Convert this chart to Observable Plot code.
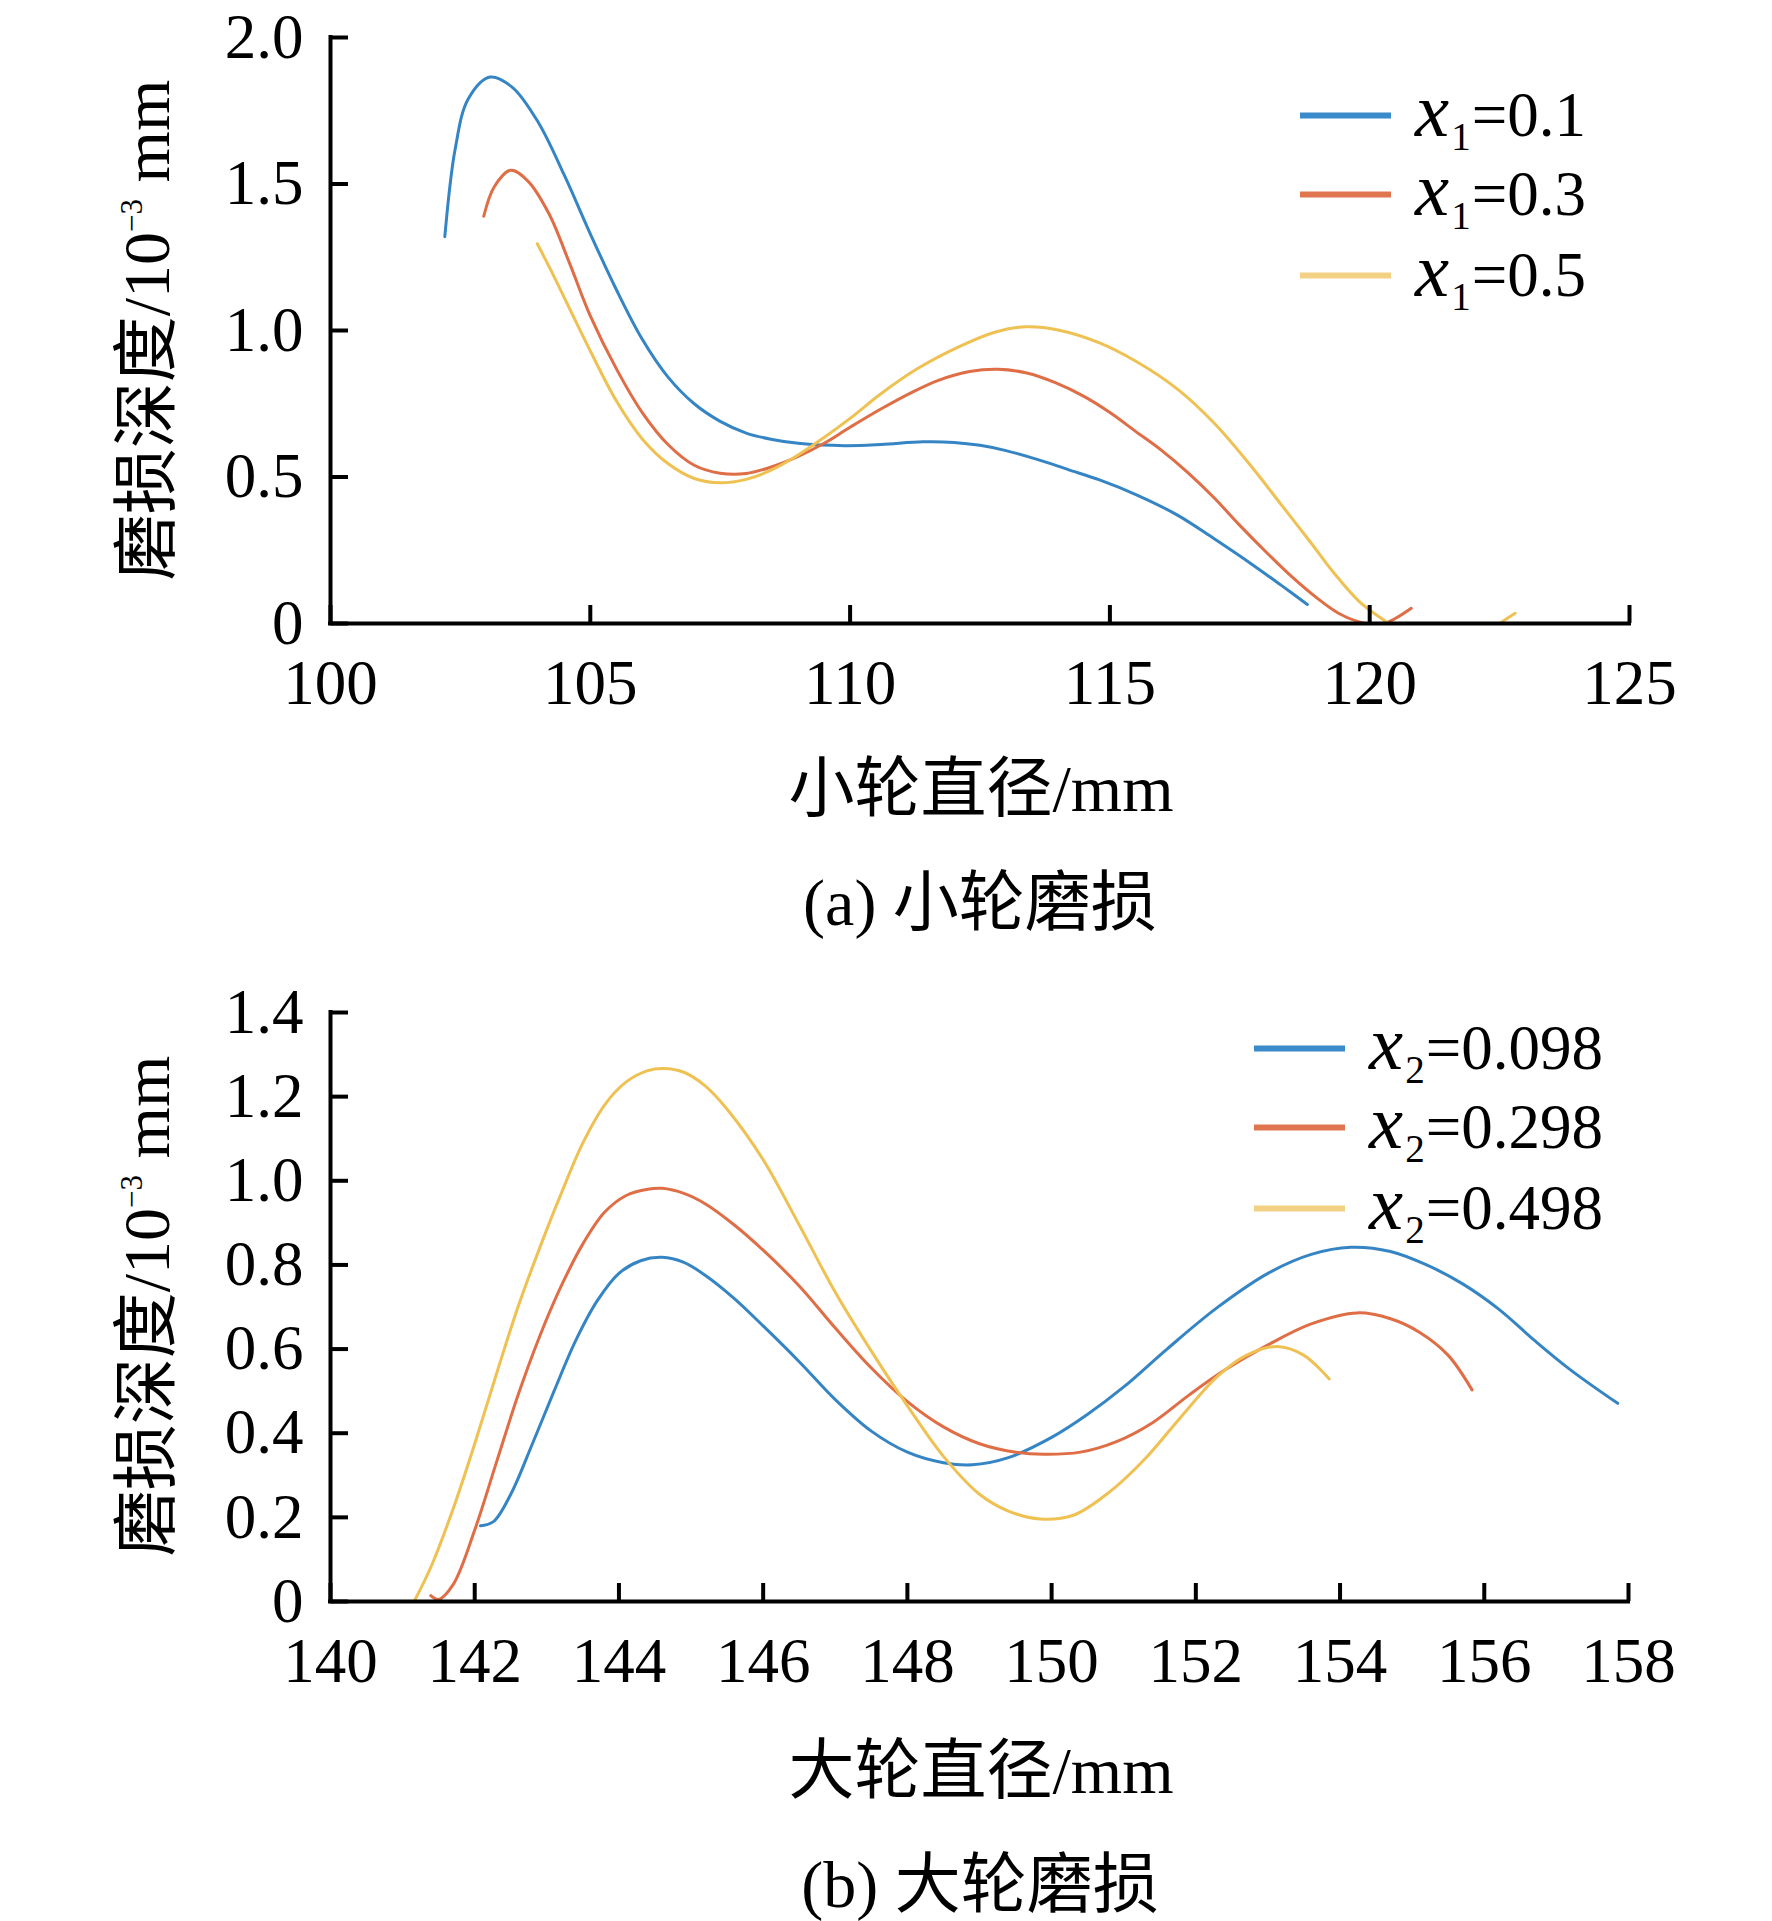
<!DOCTYPE html>
<html><head><meta charset="utf-8">
<script src="https://cdn.jsdelivr.net/npm/d3@7"></script>
<script src="https://cdn.jsdelivr.net/npm/@observablehq/plot@0.6"></script>
<style>
html,body{margin:0;padding:0;background:#fff;}
#page{position:relative;width:1772px;height:1921px;overflow:hidden;background:#fff;font-family:"Liberation Serif","Noto Sans CJK SC",serif;color:#000;}
.t{position:absolute;white-space:nowrap;line-height:1;font-size:66px;transform:translate(-50%,-50%);}
.yt{position:absolute;white-space:nowrap;line-height:1;font-size:66px;transform:translate(-50%,-50%) rotate(-90deg);}
.sup{font-size:31px;vertical-align:27px;line-height:0;}
.leg{position:absolute;display:flex;align-items:center;transform:translateY(-50%);line-height:63px;font-size:63px;white-space:nowrap;}
.bar{display:inline-block;width:91px;height:6px;}
.lt{margin-left:24px;}
.vx{font-style:italic;font-size:1.22em;line-height:0;margin-right:2px;}
.sb{font-size:0.62em;vertical-align:-14px;line-height:0;margin-right:1px;}
.chart{position:absolute;left:0;}
</style></head>
<body>
<div id="page">
  <div id="chartA" class="chart" style="top:0px"></div>
  <div id="chartB" class="chart" style="top:960px"></div>
</div>
<script>
// ---------- data: (a) small wheel ----------
const xTicksA = [100, 105, 110, 115, 120, 125];
const xTickLabelsA = ["100", "105", "110", "115", "120", "125"];
const yTicksA = [0, 0.5, 1.0, 1.5, 2.0];
const yTickLabelsA = ["0", "0.5", "1.0", "1.5", "2.0"];
const seriesNamesA = ["0.1", "0.3", "0.5"];

const wearA_01 = [[102.2,1.32],[102.4,1.62],[102.65,1.79],[103.07,1.865],[103.5,1.83],[104.0,1.71],[104.5,1.53],[105.0,1.33],[105.5,1.14],[106.0,0.97],[106.5,0.84],[107.0,0.75],[107.5,0.69],[108.0,0.65],[108.5,0.628],[109.0,0.615],[109.9,0.607],[110.6,0.611],[111.4,0.62],[112.0,0.618],[112.5,0.608],[113.0,0.59],[113.6,0.56],[114.2,0.525],[114.8,0.49],[115.5,0.44],[116.3,0.37],[117.0,0.29],[117.75,0.2],[118.3,0.13],[118.8,0.065]];
const wearA_03 = [[102.95,1.39],[103.15,1.49],[103.47,1.547],[103.8,1.51],[104.2,1.40],[104.6,1.23],[105.0,1.05],[105.5,0.87],[106.0,0.72],[106.5,0.61],[107.0,0.54],[107.5,0.513],[108.0,0.512],[108.5,0.535],[109.0,0.57],[109.5,0.615],[110.0,0.67],[110.6,0.733],[111.2,0.79],[111.7,0.83],[112.3,0.86],[112.85,0.868],[113.4,0.855],[113.95,0.822],[114.5,0.775],[115.0,0.72],[115.5,0.655],[116.0,0.59],[116.5,0.515],[117.0,0.43],[117.5,0.335],[118.0,0.245],[118.5,0.16],[119.0,0.085],[119.4,0.035],[119.8,0.005],[120.2,-0.005],[120.5,0.018],[120.8,0.052]];
const wearA_05 = [[103.98,1.296],[104.3,1.185],[104.6,1.075],[105.0,0.93],[105.5,0.76],[106.0,0.63],[106.5,0.545],[107.0,0.495],[107.5,0.48],[108.0,0.492],[108.5,0.525],[109.0,0.575],[109.5,0.635],[110.0,0.70],[110.6,0.785],[111.3,0.87],[112.1,0.945],[112.8,0.995],[113.4,1.013],[114.0,1.002],[114.8,0.958],[115.5,0.895],[116.3,0.80],[117.0,0.685],[117.75,0.53],[118.3,0.405],[118.85,0.28],[119.3,0.175],[119.8,0.075],[120.3,0.008],[120.7,-0.04],[121.2,-0.08],[121.7,-0.08],[122.2,-0.04],[122.5,0.0],[122.8,0.035]];

// ---------- data: (b) large wheel ----------
const xTicksB = [140, 142, 144, 146, 148, 150, 152, 154, 156, 158];
const xTickLabelsB = ["140", "142", "144", "146", "148", "150", "152", "154", "156", "158"];
const yTicksB = [0, 0.2, 0.4, 0.6, 0.8, 1.0, 1.2, 1.4];
const yTickLabelsB = ["0", "0.2", "0.4", "0.6", "0.8", "1.0", "1.2", "1.4"];
const seriesNamesB = ["0.098", "0.298", "0.498"];

const wearB_098 = [[142.08,0.18],[142.26,0.19],[142.5,0.255],[142.8,0.375],[143.1,0.5],[143.4,0.62],[143.7,0.715],[144.0,0.78],[144.3,0.81],[144.6,0.818],[144.9,0.806],[145.2,0.775],[145.6,0.72],[146.0,0.655],[146.5,0.57],[147.0,0.48],[147.5,0.405],[148.0,0.355],[148.5,0.33],[148.9,0.325],[149.4,0.342],[150.0,0.39],[150.5,0.445],[151.0,0.51],[151.6,0.6],[152.3,0.699],[153.0,0.78],[153.6,0.825],[154.15,0.842],[154.7,0.832],[155.2,0.8],[155.7,0.755],[156.2,0.695],[156.7,0.62],[157.2,0.55],[157.85,0.471]];
const wearB_298 = [[141.39,0.014],[141.5,0.005],[141.7,0.04],[142.0,0.17],[142.3,0.33],[142.6,0.49],[142.9,0.63],[143.2,0.75],[143.5,0.85],[143.8,0.925],[144.1,0.965],[144.4,0.98],[144.6,0.982],[144.9,0.97],[145.2,0.945],[145.6,0.895],[146.0,0.835],[146.5,0.75],[147.0,0.65],[147.5,0.555],[148.0,0.475],[148.5,0.415],[149.0,0.375],[149.5,0.355],[149.9,0.35],[150.4,0.355],[150.9,0.38],[151.4,0.425],[151.9,0.49],[152.4,0.55],[153.0,0.61],[153.6,0.66],[154.24,0.686],[154.7,0.672],[155.1,0.64],[155.5,0.585],[155.83,0.503]];
const wearB_498 = [[141.16,0.0],[141.4,0.085],[141.7,0.22],[142.0,0.375],[142.3,0.54],[142.6,0.70],[142.9,0.84],[143.2,0.97],[143.5,1.09],[143.8,1.18],[144.1,1.235],[144.4,1.262],[144.62,1.267],[144.9,1.258],[145.2,1.225],[145.5,1.17],[146.0,1.05],[146.5,0.895],[147.0,0.735],[147.5,0.595],[148.0,0.465],[148.5,0.345],[149.0,0.255],[149.4,0.215],[149.84,0.196],[150.3,0.205],[150.8,0.26],[151.3,0.34],[151.8,0.44],[152.3,0.535],[152.7,0.585],[153.13,0.606],[153.5,0.585],[153.85,0.529]];

const colors = ["#3585c5", "#df6d45", "#efc152"];
const legendColors = ["#3a8bcb", "#e07650", "#f3d184"];

function toRows(pts) { return pts.map(([x, y]) => ({x, y})); }

function makeChart(cfg) {
  const frameW = cfg.width - cfg.marginLeft - cfg.marginRight;
  const frameH = cfg.height - cfg.marginTop - cfg.marginBottom;
  const fmt = (ticks, labels) => d => labels[ticks.findIndex(t => Math.abs(t - d) < 1e-9)];
  return Plot.plot({
    width: cfg.width,
    height: cfg.height,
    marginLeft: cfg.marginLeft,
    marginRight: cfg.marginRight,
    marginTop: cfg.marginTop,
    marginBottom: cfg.marginBottom,
    x: {domain: [cfg.xTicks[0], cfg.xTicks[cfg.xTicks.length - 1]], label: null},
    y: {domain: [cfg.yTicks[0], cfg.yTicks[cfg.yTicks.length - 1]], label: null},
    style: {fontFamily: "'Liberation Serif', 'Times New Roman', serif", background: "transparent", overflow: "visible", color: "#000"},
    marks: [
      ...cfg.series.map((s, i) => Plot.line(toRows(s), {x: "x", y: "y", stroke: colors[i], strokeWidth: 3, curve: "catmull-rom", clip: true})),
      Plot.ruleY([cfg.yTicks[0]], {stroke: "#000", strokeWidth: 4, strokeLinecap: "square"}),
      Plot.ruleX([cfg.xTicks[0]], {stroke: "#000", strokeWidth: 4, strokeLinecap: "square"}),
      Plot.tickX(cfg.xTicks, {x: d => d, stroke: "#000", strokeWidth: 4, insetTop: frameH - 18}),
      Plot.tickY(cfg.yTicks, {y: d => d, stroke: "#000", strokeWidth: 4, insetRight: frameW - 18}),
      Plot.axisX(cfg.xTicks, {tickSize: 0, tickPadding: 36, fontSize: 63, label: null, tickFormat: fmt(cfg.xTicks, cfg.xLabels)}),
      Plot.axisY(cfg.yTicks, {tickSize: 0, tickPadding: 27, fontSize: 63, label: null, tickFormat: fmt(cfg.yTicks, cfg.yLabels)})
    ]
  });
}

document.getElementById("chartA").append(makeChart({
  width: 1772, height: 720, marginLeft: 330, marginRight: 143, marginTop: 37, marginBottom: 97,
  xTicks: xTicksA, xLabels: xTickLabelsA, yTicks: yTicksA, yLabels: yTickLabelsA,
  series: [wearA_01, wearA_03, wearA_05]
}));
document.getElementById("chartB").append(makeChart({
  width: 1772, height: 740, marginLeft: 330, marginRight: 144, marginTop: 52, marginBottom: 99,
  xTicks: xTicksB, xLabels: xTickLabelsB, yTicks: yTicksB, yLabels: yTickLabelsB,
  series: [wearB_098, wearB_298, wearB_498]
}));

// ---------- titles, captions, legends ----------
const page = document.getElementById("page");
function addText(cls, html, left, top) {
  const d = document.createElement("div");
  d.className = cls;
  d.style.left = left + "px";
  d.style.top = top + "px";
  d.innerHTML = html;
  page.append(d);
}
const yTitle = '磨损深度/10<span class="sup">−3</span> mm';
addText("yt", yTitle, 147, 330);
addText("yt", yTitle, 147, 1306);
addText("t", "小轮直径/mm", 981, 789);
addText("t", "(a) 小轮磨损", 980, 903);
addText("t", "大轮直径/mm", 981, 1771);
addText("t", "(b) 大轮磨损", 980, 1885);

function addLegend(names, sub, left, tops) {
  names.forEach((n, i) => {
    const d = document.createElement("div");
    d.className = "leg";
    d.style.left = left + "px";
    d.style.top = tops[i] + "px";
    d.innerHTML = `<span class="bar" style="background:${legendColors[i]}"></span><span class="lt"><span class="vx">x</span><span class="sb">${sub}</span>=${n}</span>`;
    page.append(d);
  });
}
addLegend(seriesNamesA, "1", 1300, [115, 194, 275]);
addLegend(seriesNamesB, "2", 1254, [1048, 1127, 1208]);
</script>
</body></html>
